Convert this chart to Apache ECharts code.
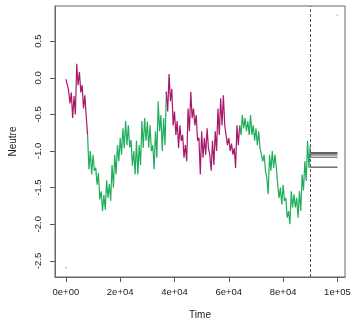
<!DOCTYPE html>
<html>
<head>
<meta charset="utf-8">
<script src="https://cdn.jsdelivr.net/npm/echarts@6/dist/echarts.min.js"></script>
<style>
  html, body { margin: 0; padding: 0; background: #fff; }
  #main { width: 362px; height: 325px; }
</style>
</head>
<body>
<div id="main"></div>
<script>
// band of the series per 1000 time units (upper / lower value in each step)
const upper = [
  -0.02, -0.17, -0.20, -0.25, 0.19, 0.08, -0.10, -0.24, -0.78, -1.00,
  -1.05, -1.23, -1.30, -1.55, -1.60, -1.40, -1.45, -1.19, -1.05, -0.92,
  -0.82, -0.69, -0.59, -0.65, -0.85, -1.00, -0.86, -0.92, -0.59, -0.55,
  -0.60, -0.65, -0.92, -0.73, -0.32, -0.51, -0.55, -0.19, 0.05, -0.15,
  -0.46, -0.59, -0.65, -0.78, -0.92, -0.42, -0.19, -0.42, -0.51, -0.82,
  -0.73, -0.82, -0.69, -1.05, -0.86, -0.73, -0.42, -0.28, -0.24, -0.65,
  -0.82, -0.90, -0.96, -0.65, -0.65, -0.51, -0.55, -0.59, -0.51, -0.65,
  -0.69, -0.73, -0.96, -1.05, -1.36, -1.05, -1.00, -1.05, -1.46, -1.50,
  -1.46, -1.64, -1.82, -1.55, -1.59, -1.64, -1.55, -1.32, -1.14, -0.86,
  -0.92
];
const lower = [
  -0.09, -0.35, -0.55, -0.50, -0.10, -0.20, -0.42, -0.53, -1.25, -1.32,
  -1.27, -1.46, -1.66, -1.82, -1.80, -1.64, -1.68, -1.50, -1.32, -1.14,
  -1.05, -0.96, -0.92, -0.95, -1.20, -1.32, -1.32, -1.19, -0.96, -0.86,
  -0.95, -1.00, -1.25, -1.09, -0.73, -1.00, -0.92, -0.46, -0.32, -0.65,
  -0.78, -0.96, -0.86, -1.09, -1.14, -0.73, -0.55, -0.65, -0.86, -1.32,
  -1.09, -1.05, -0.96, -1.27, -1.19, -1.00, -0.78, -0.65, -0.65, -0.92,
  -1.00, -1.05, -1.23, -0.92, -0.78, -0.69, -0.73, -0.78, -0.78, -0.86,
  -0.92, -0.96, -1.14, -1.27, -1.59, -1.27, -1.23, -1.23, -1.64, -1.73,
  -1.68, -1.91, -2.00, -1.77, -1.77, -1.91, -1.82, -1.54, -1.41, -1.23,
  -1.19
];
const step = 1000;
// regimes: [first step, last step, colour]
const regimes = [
  [0, 8, '#a8186a'],
  [8, 37, '#20ad5c'],
  [37, 64, '#a8186a'],
  [64, 90, '#20ad5c']
];
const splitTime = 90000;
const forecastEnd = 100000;
const forecasts = [-1.025, -1.04, -1.06, -1.085, -1.22];
const forecastColors = ['#111', '#222', '#999', '#555', '#222'];
const cornerPoints = [[0, -2.59], [100000, 0.85]];
const xTicks = [0, 20000, 40000, 60000, 80000, 100000];
const xTickLabels = ['0e+00', '2e+04', '4e+04', '6e+04', '8e+04', '1e+05'];
const yTicks = [-2.5, -2.0, -1.5, -1.0, -0.5, 0.0, 0.5];
const yTickLabels = ['-2.5', '-2.0', '-1.5', '-1.0', '-0.5', '0.0', '0.5'];

const font = 'Liberation Sans, Arial, sans-serif';
const xRange = { min: -4000, max: 102800 };
const yRange = { min: -2.72, max: 0.98 };

function segment(a, b) {
  const pts = [];
  for (let i = a; i <= b; i++) {
    pts.push([i * step, upper[i]]);
    if (i < b) pts.push([i * step + step / 2, lower[i]]);
  }
  return pts;
}

const series = regimes.map(function (r) {
  return {
    type: 'line',
    data: segment(r[0], r[1]),
    showSymbol: false,
    lineStyle: { color: r[2], width: 1.2 },
    silent: true,
    animation: false
  };
});

forecasts.forEach(function (v, k) {
  series.push({
    type: 'line',
    data: [[splitTime, v], [forecastEnd, v]],
    showSymbol: false,
    lineStyle: { color: forecastColors[k], width: 1 },
    animation: false
  });
});

series.push({
  type: 'scatter',
  data: cornerPoints,
  symbolSize: 2,
  itemStyle: { color: '#bbb' },
  animation: false,
  markLine: {
    silent: true,
    symbol: 'none',
    label: { show: false },
    lineStyle: { color: '#555', type: [3, 2], width: 1 },
    data: [{ xAxis: splitTime }],
    animation: false
  }
});

// axis 0: line + ticks only (plain), axis 1: formatted labels + title
function tickAxis(range, ticks, pos) {
  return {
    type: 'value', min: range.min, max: range.max, position: pos,
    axisLine: { show: true, onZero: false, lineStyle: { color: '#666' } },
    splitLine: { show: false },
    axisTick: { show: true, length: 5, lineStyle: { color: '#555', width: 1 }, customValues: ticks },
    axisLabel: { customValues: ticks, color: 'rgba(0,0,0,0)' }
  };
}

const myChart = echarts.init(document.getElementById('main'));
myChart.setOption({
  backgroundColor: '#fff',
  animation: false,
  grid: {
    left: 50, right: 7, top: 6, bottom: 44,
    show: true, borderColor: '#666', borderWidth: 1
  },
  xAxis: [
    tickAxis(xRange, xTicks, 'bottom'),
    {
      type: 'value', min: xRange.min, max: xRange.max, position: 'bottom',
      name: 'Time', nameLocation: 'middle', nameGap: 33,
      nameTextStyle: { fontFamily: font, fontSize: 10, color: '#222' },
      axisLine: { show: false, onZero: false },
      axisTick: { show: false },
      splitLine: { show: false },
      axisLabel: {
        fontFamily: font, fontSize: 9.5, color: '#222', margin: 10,
        customValues: xTicks,
        formatter: function (v) { return xTickLabels[xTicks.indexOf(v)]; }
      }
    }
  ],
  yAxis: [
    tickAxis(yRange, yTicks, 'left'),
    {
      type: 'value', min: yRange.min, max: yRange.max, position: 'left',
      name: 'Neutre', nameLocation: 'middle', nameGap: 37,
      nameTextStyle: { fontFamily: font, fontSize: 10, color: '#222' },
      axisLine: { show: false, onZero: false },
      axisTick: { show: false },
      splitLine: { show: false },
      axisLabel: {
        fontFamily: font, fontSize: 9.5, color: '#222', margin: 12, rotate: 90,
        customValues: yTicks,
        formatter: function (v) {
          const k = yTicks.findIndex(function (t) { return Math.abs(t - v) < 1e-6; });
          return yTickLabels[k];
        }
      }
    }
  ],
  series: series
});
</script>
</body>
</html>
